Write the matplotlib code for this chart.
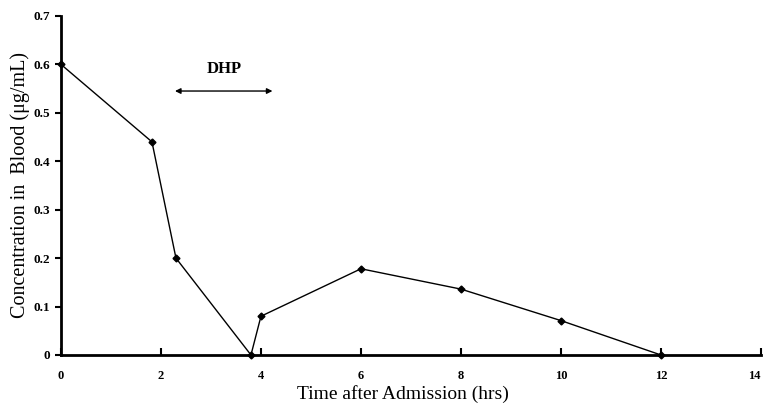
import matplotlib
matplotlib.use("Agg")
import matplotlib.pyplot as plt

time_hrs = [0, 1.82, 2.3, 3.8, 4.0, 6.0, 8.0, 10.0, 12.0]
concentration = [0.60, 0.44, 0.20, 0.0, 0.08, 0.178, 0.136, 0.071, 0.0]

x_ticks = [0, 2, 4, 6, 8, 10, 12, 14]
y_ticks = [0, 0.1, 0.2, 0.3, 0.4, 0.5, 0.6, 0.7]
y_tick_labels = ["0", "0.1", "0.2", "0.3", "0.4", "0.5", "0.6", "0.7"]

dhp_start, dhp_end, dhp_level = 2.28, 4.23, 0.545

plt.rcParams["font.family"] = ["Liberation Serif", "DejaVu Serif"]

fig = plt.figure(figsize=(7.65, 4.07), dpi=100)
ax = fig.add_axes([0.0797, 0.1278, 0.915, 0.833])

ax.plot(time_hrs, concentration, color="black", linewidth=1.0,
        marker="D", markersize=3.5, clip_on=False, zorder=3)

ax.set_xlim(0, 14)
ax.set_ylim(0, 0.7)

for side in ("top", "right"):
    ax.spines[side].set_visible(False)
for side in ("left", "bottom"):
    ax.spines[side].set_linewidth(2.0)

ax.set_xticks(x_ticks)
ax.set_yticks(y_ticks)
ax.set_yticklabels(y_tick_labels)
ax.tick_params(axis="x", direction="in", length=5, width=1.5, pad=11, labelsize=9)
ax.tick_params(axis="y", direction="out", length=4, width=1.5, pad=4, labelsize=9.5)
for lbl in ax.get_xticklabels() + ax.get_yticklabels():
    lbl.set_fontweight("bold")
# last x label sits on the figure edge, nudge it in
ax.get_xticklabels()[-1].set_horizontalalignment("right")

ax.set_xlabel("Time after Admission (hrs)", fontsize=14, labelpad=0)
ax.xaxis.set_label_coords(0.488, -0.088)
ax.set_ylabel("Concentration in  Blood (\u03bcg/mL)", fontsize=14.5)
ax.yaxis.set_label_coords(-0.044, 0.5)

ax.annotate("", xy=(dhp_end, dhp_level), xytext=(dhp_start, dhp_level),
            arrowprops=dict(arrowstyle="<|-|>", color="black", lw=1.0,
                            mutation_scale=8, shrinkA=0, shrinkB=0))
ax.text((dhp_start + dhp_end) / 2, 0.59, "DHP", ha="center", va="center",
        fontsize=12, fontweight="bold")

fig.savefig("out.png", dpi=100)
